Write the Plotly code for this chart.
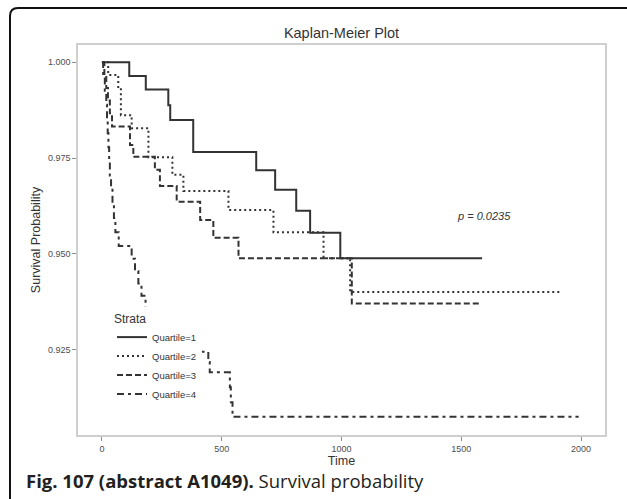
import plotly.graph_objects as go

# Kaplan-Meier step curves (time, survival probability)
q1_time = [0, 114, 183, 277, 285, 381, 644, 723, 811, 869, 995, 1587]
q1_surv = [1.0, 0.9964, 0.9929, 0.9888, 0.9849, 0.9766, 0.9718, 0.9667, 0.9612, 0.9555, 0.9488, 0.9488]

q2_time = [0, 26, 68, 79, 124, 194, 294, 340, 528, 716, 925, 1036, 1921]
q2_surv = [1.0, 0.9967, 0.9932, 0.9862, 0.9828, 0.9752, 0.9706, 0.9664, 0.9614, 0.9556, 0.9488, 0.9400, 0.9400]

q3_time = [0, 10, 18, 25, 33, 42, 117, 131, 221, 242, 312, 410, 465, 570, 1043, 1580]
q3_surv = [1.0, 0.9966, 0.9933, 0.9900, 0.9867, 0.9832, 0.9784, 0.9753, 0.9719, 0.9677, 0.9636, 0.9588, 0.9542, 0.9488, 0.9370, 0.9370]

q4_time = [0, 5, 12, 18, 21, 24, 27, 30, 33, 38, 44, 50, 56, 70, 124, 138, 152, 165, 182,
           230, 300, 405, 444, 450, 534, 538, 545, 1990]
q4_surv = [1.0, 0.9963, 0.9926, 0.9889, 0.9852, 0.9815, 0.9778, 0.9741, 0.9704, 0.9667, 0.9630,
           0.9593, 0.9556, 0.9520, 0.9487, 0.9455, 0.9422, 0.9390, 0.9357,
           0.9320, 0.9282, 0.9244, 0.9217, 0.9190, 0.9151, 0.9112, 0.9074, 0.9074]

strata = ['Quartile=1', 'Quartile=2', 'Quartile=3', 'Quartile=4']
x_ticks = [0, 500, 1000, 1500, 2000]
y_ticks = [0.925, 0.950, 0.975, 1.000]
p_label = 'p = 0.0235'

W, H = 627, 499
L, R, T, B = 78, 22, 45, 64
pw, ph = W - L - R, H - T - B


def px(x):
    return (x - L) / pw


def py(y):
    return (H - B - y) / ph


curves = [(q1_time, q1_surv, 'solid'),
          (q2_time, q2_surv, '2px,3px'),
          (q3_time, q3_surv, '6px,3px'),
          (q4_time, q4_surv, '7px,4px,3px,4px')]

fig = go.Figure()
for name, (t, s, dash) in zip(strata, curves):
    fig.add_trace(go.Scatter(x=t, y=s, mode='lines', name=name,
                             line=dict(shape='hv', color='#333333', width=2, dash=dash)))

fig.add_annotation(x=1596, y=0.9598, text=f'<i>{p_label}</i>', showarrow=False,
                   font=dict(size=11, color='#333333'))

# caption under the chart
fig.add_annotation(xref='paper', yref='paper', x=px(24), y=py(480), xanchor='left', yanchor='middle',
                   text='<b>Fig. 107 (abstract A1049).</b> Survival probability', showarrow=False,
                   font=dict(family='Open Sans', size=18.5, color='#231f20'))

# rounded frame around the figure
r = 8
fx0, fy0, fx1 = 10, 8, 634
path = (f'M {px(fx0)},{py(520)} L {px(fx0)},{py(fy0 + r)} '
        f'Q {px(fx0)},{py(fy0)} {px(fx0 + r)},{py(fy0)} '
        f'L {px(fx1 - r)},{py(fy0)} Q {px(fx1)},{py(fy0)} {px(fx1)},{py(fy0 + r)} '
        f'L {px(fx1)},{py(520)}')
fig.add_shape(type='path', xref='paper', yref='paper', path=path,
              line=dict(color='#111111', width=2))

axis_common = dict(showgrid=False, zeroline=False, showline=True, mirror=True,
                   linecolor='#cfcfcf', linewidth=1.5, ticks='outside', ticklen=4,
                   tickcolor='#8c8c8c', tickfont=dict(size=9, color='#4d4d4d'))

fig.update_xaxes(range=[-100, 2100], tickvals=x_ticks, ticktext=[str(v) for v in x_ticks],
                 title=dict(text='Time', font=dict(size=12.5, color='#333333'), standoff=1),
                 **axis_common)
fig.update_yaxes(range=[0.90264, 1.00452], tickvals=y_ticks, ticktext=[f'{v:.3f}' for v in y_ticks],
                 title=dict(text='Survival Probability', font=dict(size=12.5, color='#333333'), standoff=5),
                 **axis_common)

fig.update_layout(
    width=W, height=H,
    margin=dict(l=L, r=R, t=T, b=B),
    paper_bgcolor='white', plot_bgcolor='white',
    font=dict(family='Liberation Sans, Arial, sans-serif', color='#333333'),
    title=dict(text='Kaplan-Meier Plot', x=0.5, xref='paper', y=1 - 33 / H, yanchor='middle',
               font=dict(size=14.5, color='#333333')),
    showlegend=True,
    legend=dict(x=px(112), y=py(307), xanchor='left', yanchor='top', bgcolor='white',
                title=dict(text='Strata', font=dict(size=12, color='#333333')),
                font=dict(size=9.5, color='#333333'), tracegroupgap=0, itemwidth=30),
)

fig.write_html('out.html', config={'displayModeBar': False},
               post_script="document.body.style.margin='0';document.body.style.overflow='hidden';")
